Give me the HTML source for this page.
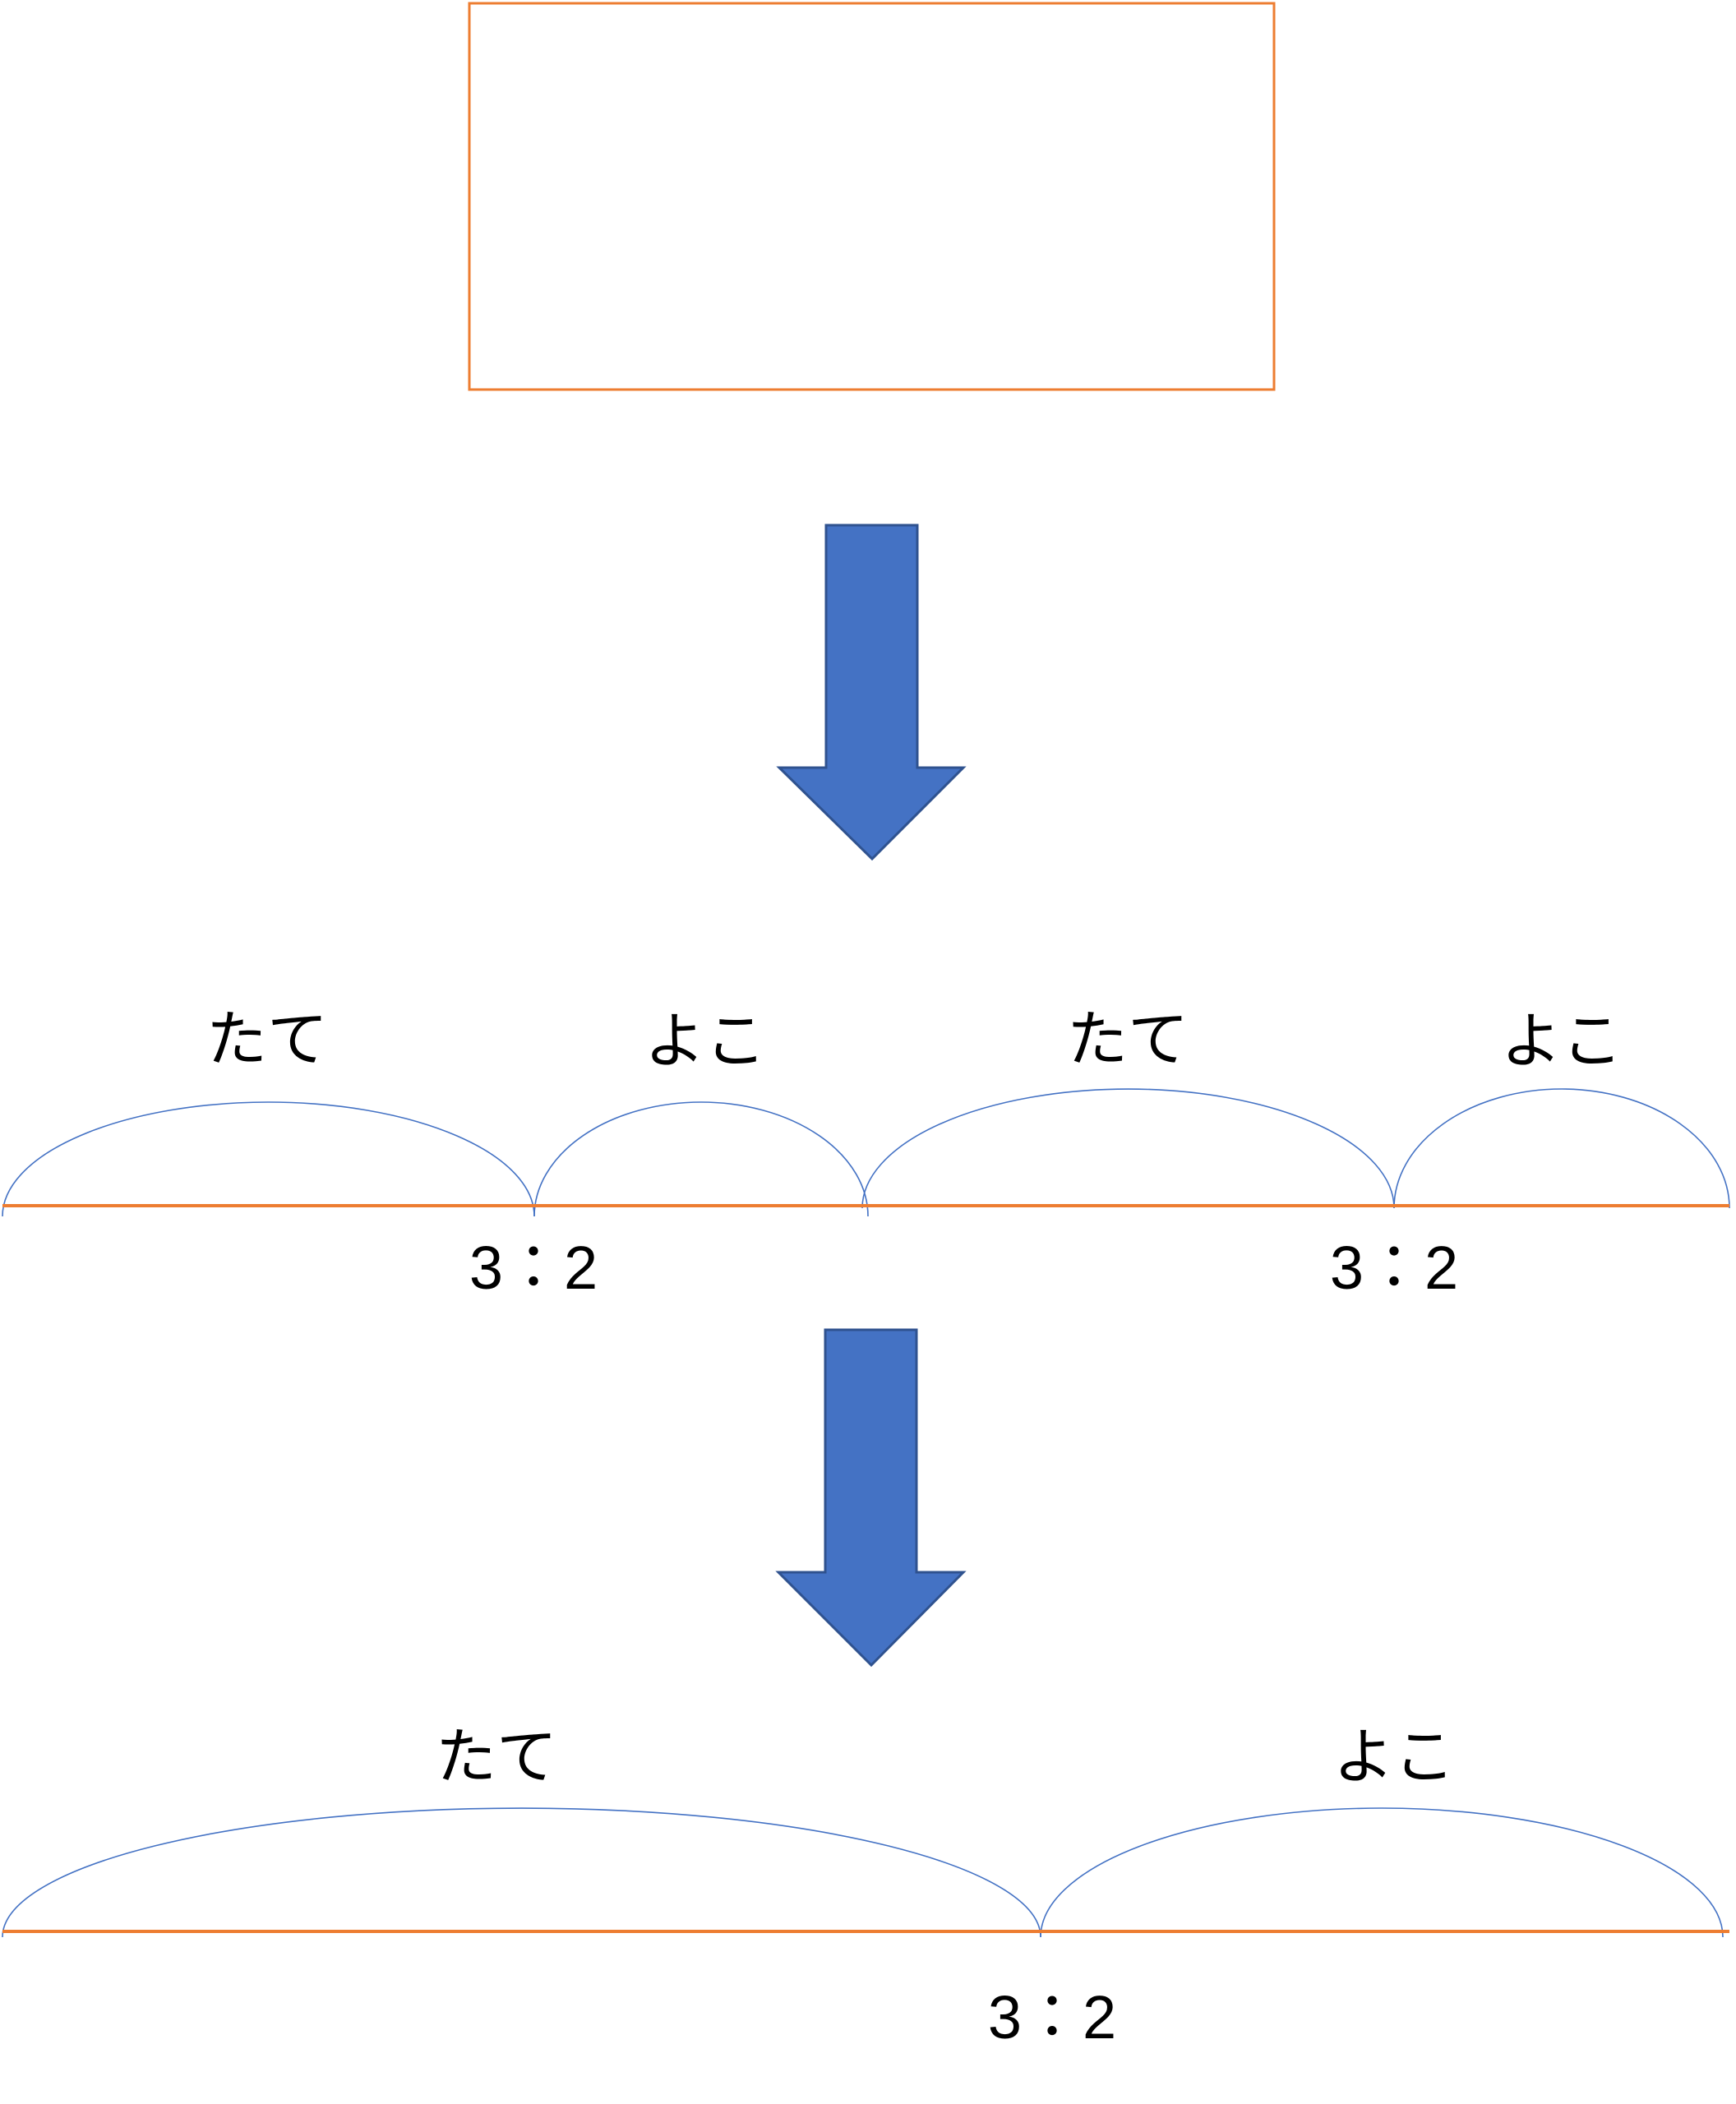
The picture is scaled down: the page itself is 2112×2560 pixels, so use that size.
<!DOCTYPE html>
<html><head><meta charset="utf-8"><style>html,body{margin:0;padding:0;background:#fff}svg{display:block}</style></head>
<body>
<svg width="2112" height="2560" viewBox="0 0 2112 2560" xmlns="http://www.w3.org/2000/svg">
<rect x="571" y="4" width="979" height="470" fill="none" stroke="#ED7D31" stroke-width="3"/>
<polygon points="1005,639 1116,639 1116,934 1172,934 1061,1045 948,934 1005,934" fill="#4472C4" stroke="#2F528F" stroke-width="3"/>
<polygon points="1004,1618 1115,1618 1115,1913 1172,1913 1060,2026 947,1913 1004,1913" fill="#4472C4" stroke="#2F528F" stroke-width="3"/>
<g fill="none" stroke="#4472C4" stroke-width="1.6">
<path d="M3,1480 A323.5,139 0 0 1 650,1480"/>
<path d="M650,1480 A203,139 0 0 1 1056,1480"/>
<path d="M1049,1470 A323.5,145 0 0 1 1696,1470"/>
<path d="M1696,1470 A204,145 0 0 1 2104,1470"/>
<path d="M3,2357 A631.5,157 0 0 1 1266,2357"/>
<path d="M1266,2357 A415,157 0 0 1 2096,2357"/>
</g>
<line x1="3" y1="1467" x2="2104" y2="1467" stroke="#ED7D31" stroke-width="4"/>
<line x1="3" y1="2350" x2="2104" y2="2350" stroke="#ED7D31" stroke-width="4"/>
<g font-family="'Liberation Sans','Noto Sans CJK JP',sans-serif" font-size="74" fill="#000" text-anchor="middle">
<text x="325" y="1290">たて</text>
<text x="858" y="1292">よこ</text>
<text x="1372" y="1290">たて</text>
<text x="1900" y="1292">よこ</text>
<text x="649" y="1568">3：2</text>
<text x="1696" y="1568">3：2</text>
<text x="604" y="2163">たて</text>
<text x="1696" y="2163">よこ</text>
<text x="1280" y="2480">3：2</text>
</g>
</svg>
</body></html>
